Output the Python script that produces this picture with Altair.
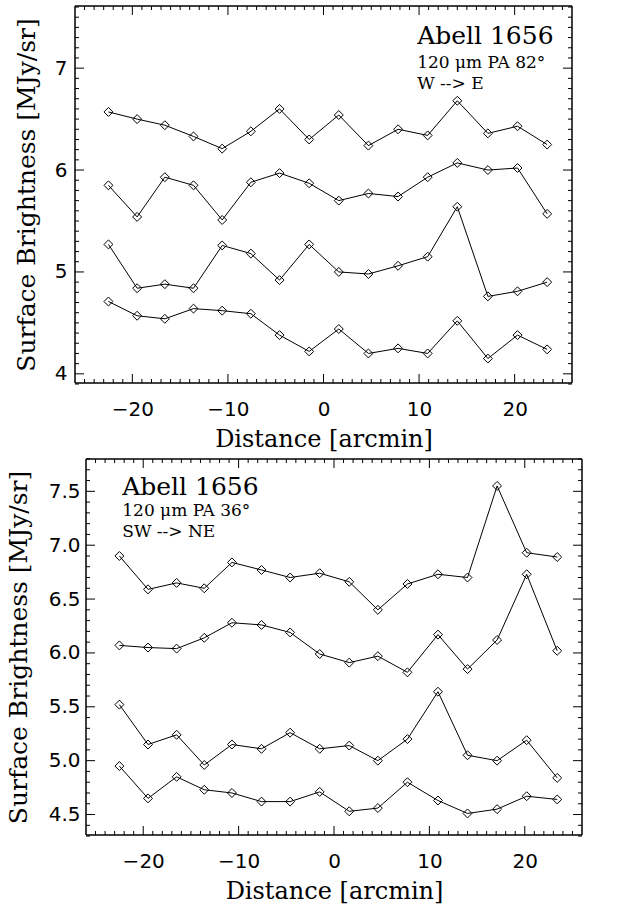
import altair as alt
import pandas as pd

# ---------------- data ----------------
dist_top = [-22.5, -19.5, -16.6, -13.6, -10.6, -7.6, -4.6, -1.5, 1.6, 4.7, 7.8, 10.9, 14.0, 17.2, 20.3, 23.4]
top_a = [6.57, 6.50, 6.44, 6.33, 6.21, 6.38, 6.60, 6.30, 6.54, 6.24, 6.40, 6.34, 6.68, 6.36, 6.43, 6.25]
top_b = [5.85, 5.54, 5.93, 5.85, 5.51, 5.88, 5.97, 5.87, 5.70, 5.77, 5.74, 5.93, 6.07, 6.00, 6.02, 5.57]
top_c = [5.27, 4.84, 4.88, 4.84, 5.26, 5.18, 4.92, 5.27, 5.00, 4.98, 5.06, 5.15, 5.64, 4.76, 4.81, 4.90]
top_d = [4.71, 4.57, 4.54, 4.64, 4.62, 4.59, 4.38, 4.22, 4.44, 4.20, 4.25, 4.20, 4.52, 4.15, 4.38, 4.24]

dist_bot = [-22.5, -19.5, -16.5, -13.6, -10.7, -7.6, -4.6, -1.5, 1.6, 4.6, 7.7, 10.9, 14.0, 17.1, 20.2, 23.4]
bot_a = [6.90, 6.59, 6.65, 6.60, 6.84, 6.77, 6.70, 6.74, 6.66, 6.40, 6.64, 6.73, 6.70, 7.55, 6.93, 6.89]
bot_b = [6.07, 6.05, 6.04, 6.14, 6.28, 6.26, 6.19, 5.99, 5.91, 5.97, 5.82, 6.17, 5.85, 6.12, 6.73, 6.02]
bot_c = [5.52, 5.15, 5.24, 4.96, 5.15, 5.11, 5.26, 5.11, 5.14, 5.00, 5.20, 5.64, 5.05, 5.00, 5.19, 4.84]
bot_d = [4.95, 4.65, 4.85, 4.73, 4.70, 4.62, 4.62, 4.71, 4.53, 4.56, 4.80, 4.63, 4.51, 4.55, 4.67, 4.64]

x_major = [-20, -10, 0, 10, 20]
x_minor = [v for v in range(-25, 26) if v % 10 != 0]
top_y_major = [4, 5, 6, 7]
top_y_minor = [round(v * 0.1, 1) for v in range(39, 77) if v % 10 != 0]
bot_y_major = [4.5, 5.0, 5.5, 6.0, 6.5, 7.0, 7.5]
bot_y_minor = [round(v * 0.1, 1) for v in range(43, 79) if v % 5 != 0]

top_notes = ["Abell 1656", "120 μm PA 82°", "W --> E"]
top_note_x = [9.8, 9.8, 9.8]
top_note_y = [7.24, 7.00, 6.80]
bot_notes = ["Abell 1656", "120 μm PA 36°", "SW --> NE"]
bot_note_x = [-22.2, -22.2, -22.2]
bot_note_y = [7.47, 7.27, 7.08]

SERIF = "DejaVu Serif"
SANS = "DejaVu Sans"


def panel(dist, series, y_dom, y_major, y_minor, y_fmt, notes, note_x, note_y,
          x0, W, H, y_title_pad, y_label_pad):
    x1 = x0 + W
    rows = []
    for k, vals in enumerate(series):
        for d, v in zip(dist, vals):
            rows.append({"d": d, "v": v, "s": k})
    df = pd.DataFrame(rows)
    xs = alt.Scale(domain=[-26, 26], range=[x0, x1], nice=False, zero=False)
    ys = alt.Scale(domain=y_dom, nice=False, zero=False)
    xaxis = alt.Axis(values=x_major, ticks=False, domain=False, grid=False,
                     labelFont=SANS, labelFontSize=20, labelColor="black",
                     labelPadding=16, title="Distance [arcmin]", titleFont=SERIF,
                     titleFontSize=24, titleFontWeight="normal", titleColor="black",
                     titlePadding=8, format="d")
    yaxis = alt.Axis(values=y_major, ticks=False, domain=False, grid=False,
                     labelFont=SANS, labelFontSize=20, labelColor="black",
                     labelPadding=y_label_pad, title="Surface Brightness [MJy/sr]",
                     titleFont=SERIF, titleFontSize=25, titleFontWeight="normal",
                     titleColor="black", titlePadding=y_title_pad, format=y_fmt,
                     offset=-x0)

    base = alt.Chart(df)
    line = base.mark_line(color="black", strokeWidth=1).encode(
        x=alt.X("d:Q", scale=xs, axis=xaxis),
        y=alt.Y("v:Q", scale=ys, axis=yaxis),
        detail="s:N",
    )
    pts = base.mark_point(shape="diamond", size=80, filled=False, color="black",
                          strokeWidth=1, opacity=1).encode(
        x=alt.X("d:Q", scale=xs),
        y=alt.Y("v:Q", scale=ys),
    )

    layers = [line, pts]
    xmaj = pd.DataFrame({"t": x_major})
    xmin = pd.DataFrame({"t": x_minor})
    ymaj = pd.DataFrame({"t": y_major})
    ymin = pd.DataFrame({"t": y_minor})
    for tdf, ln in ((xmaj, 9), (xmin, 4)):
        layers.append(alt.Chart(tdf).mark_rule(color="black", strokeWidth=1).encode(
            x=alt.X("t:Q", scale=xs), y=alt.value(H), y2=alt.value(H - ln)))
        layers.append(alt.Chart(tdf).mark_rule(color="black", strokeWidth=1).encode(
            x=alt.X("t:Q", scale=xs), y=alt.value(0), y2=alt.value(ln)))
    for tdf, ln in ((ymaj, 9), (ymin, 4)):
        layers.append(alt.Chart(tdf).mark_rule(color="black", strokeWidth=1).encode(
            y=alt.Y("t:Q", scale=ys), x=alt.value(x0), x2=alt.value(x0 + ln)))
        layers.append(alt.Chart(tdf).mark_rule(color="black", strokeWidth=1).encode(
            y=alt.Y("t:Q", scale=ys), x=alt.value(x1), x2=alt.value(x1 - ln)))

    # frame
    one = pd.DataFrame({"k": [0]})
    frame = alt.Chart(one).mark_rule(color="black", strokeWidth=1.5)
    layers += [
        frame.encode(x=alt.value(x0), x2=alt.value(x1), y=alt.value(0)),
        frame.encode(x=alt.value(x0), x2=alt.value(x1), y=alt.value(H)),
        frame.encode(x=alt.value(x0), y=alt.value(0), y2=alt.value(H)),
        frame.encode(x=alt.value(x1), y=alt.value(0), y2=alt.value(H)),
    ]

    sizes = [25, 17, 17]
    for i in range(3):
        ndf = pd.DataFrame({"x": [note_x[i]], "y": [note_y[i]], "t": [notes[i]]})
        layers.append(alt.Chart(ndf).mark_text(align="left", baseline="alphabetic",
                                               font=SERIF, fontSize=sizes[i],
                                               color="black").encode(
            x=alt.X("x:Q", scale=xs), y=alt.Y("y:Q", scale=ys), text="t:N"))

    return alt.layer(*layers).properties(width=x1 + 1, height=H)


top = panel(dist_top, [top_a, top_b, top_c, top_d], [3.91, 7.61], top_y_major,
            top_y_minor, "d", top_notes, top_note_x, top_note_y, 0, 497, 377, 15, 8)
bot = panel(dist_bot, [bot_a, bot_b, bot_c, bot_d], [4.31, 7.80], bot_y_major,
            bot_y_minor, ".1f", bot_notes, bot_note_x, bot_note_y, 11, 496, 376, 17, 6)

chart = alt.vconcat(top, bot, spacing=7).properties(
    padding={"left": 6, "top": 5, "right": 5, "bottom": 2},
    background="white",
).configure_view(strokeOpacity=0)

chart.save("out.html", embed_options={"renderer": "svg", "actions": False})
